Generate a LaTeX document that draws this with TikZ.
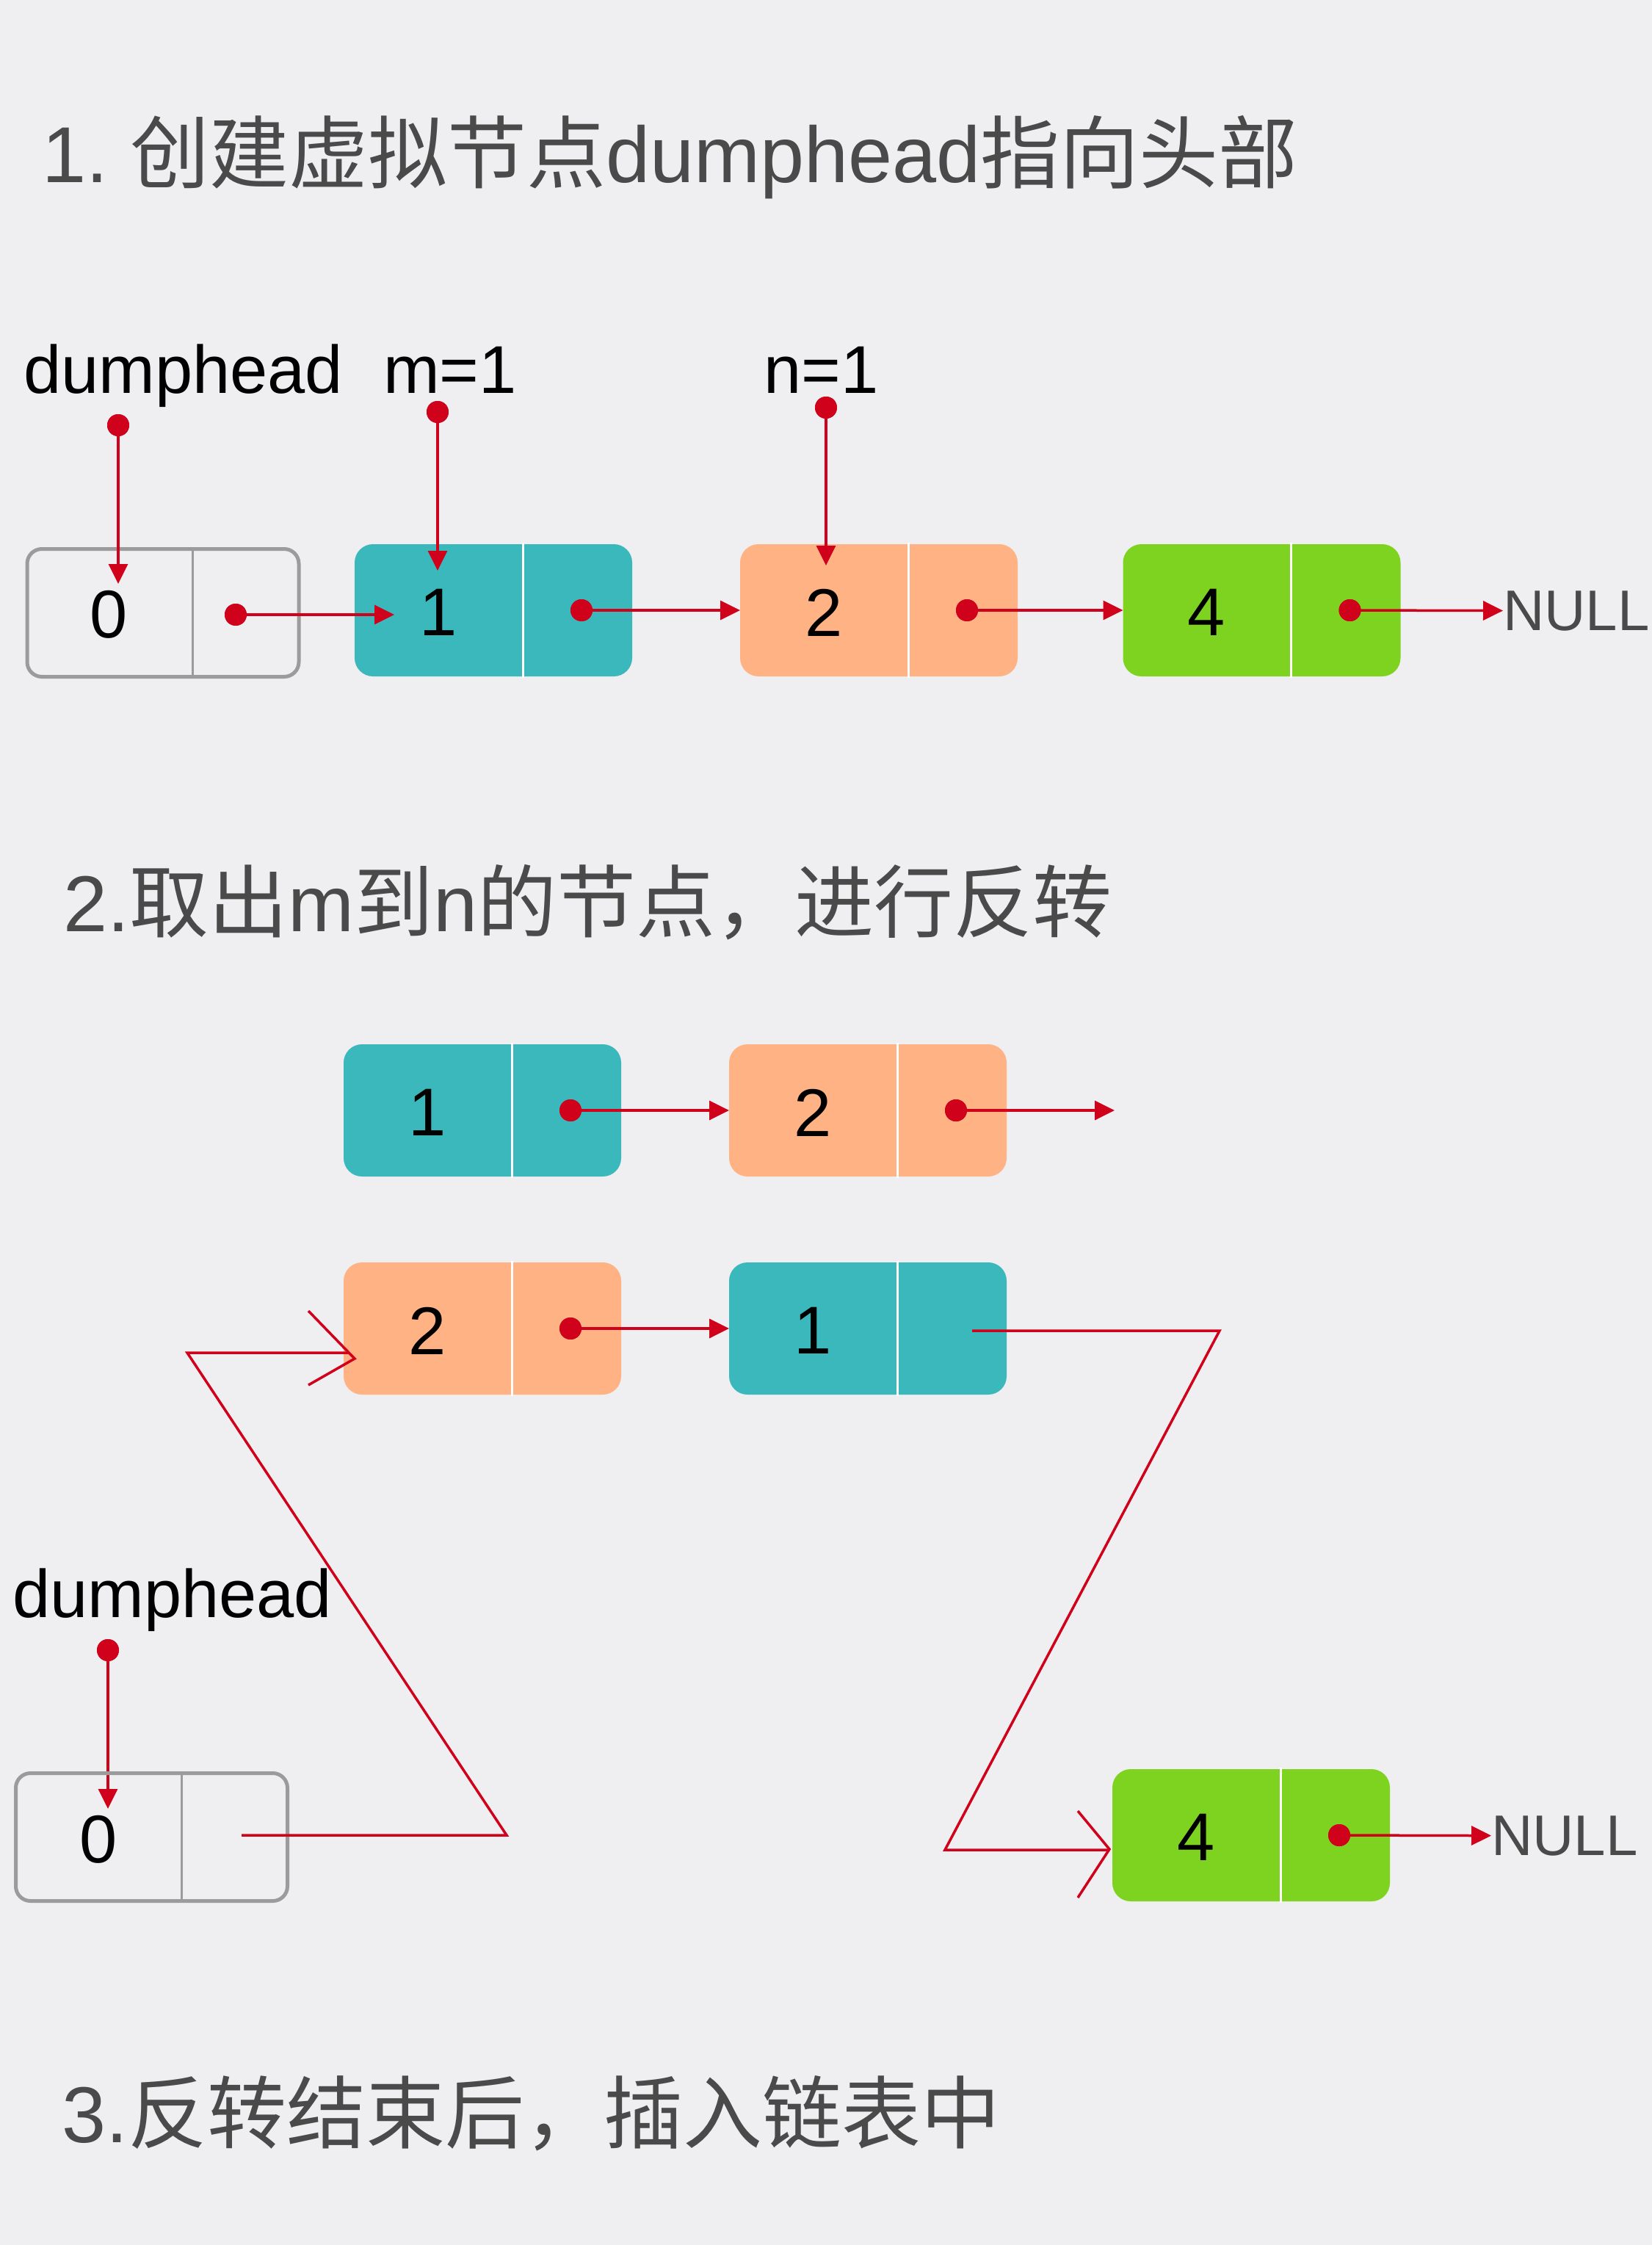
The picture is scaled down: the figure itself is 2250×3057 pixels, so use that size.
\documentclass[tikz,border=0pt]{standalone}
\usepackage{fontspec}
\setmainfont{Liberation Sans}
\newfontfamily\cjk{Noto Sans CJK SC}
\usetikzlibrary{arrows.meta,calc}
\definecolor{bgc}{HTML}{EFEFF1}
\definecolor{tealc}{HTML}{3AB8BC}
\definecolor{orangec}{HTML}{FFB385}
\definecolor{greenc}{HTML}{7ED321}
\definecolor{redc}{HTML}{D0021B}
\definecolor{grayc}{HTML}{9B9B9B}
\definecolor{titlec}{HTML}{4A4A4A}
\tikzset{
  box/.style={rounded corners=25pt, minimum width=378pt, minimum height=180pt, inner sep=0pt, outer sep=0pt, draw=none},
  hbox/.style={rounded corners=20pt, minimum width=370pt, minimum height=174pt, draw=grayc, line width=5pt, inner sep=0pt, outer sep=0pt},
  divw/.style={white, line width=3pt},
  divg/.style={grayc, line width=3pt},
  val/.style={font=\fontsize{92}{110}\selectfont, inner sep=0pt, text=black},
  lbl/.style={font=\fontsize{92}{110}\selectfont, inner sep=0pt, anchor=base west, text=black},
  nul/.style={font=\fontsize{78}{94}\selectfont, inner sep=0pt, anchor=base west, text=titlec},
  ttl/.style={font=\fontsize{108}{130}\selectfont, inner sep=0pt, anchor=base west, text=titlec},
  dot/.style={circle, fill=redc, minimum size=30pt, inner sep=0pt, outer sep=0pt},
  ptr/.style={redc, line width=3.5pt, -{Triangle[length=27pt,width=26pt]}},
  wire/.style={redc, line width=3.5pt},
}
\newcommand\mkbox[5]{% name, cx, cy, fill, value
  \node[box, fill=#4] (#1) at (#2,#3) {};
  \draw[divw] ($(#1.north west)+(229,-2)$) -- ($(#1.south west)+(229,2)$);
  \node[val] (#1v) at ($(#1.west)+(114,3)$) {#5};
}
\begin{document}
\begin{tikzpicture}[x=1pt,y=-1pt]
\useasboundingbox (0,0) rectangle (2250,3057);
\fill[bgc] (0,0) rectangle (2250,3057);

% ---------- titles ----------
\node[ttl] (t1) at (57,248) {1.\ {\cjk 创建虚拟节点}dumphead{\cjk 指向头部}};
\node[ttl] (t2) at (86,1268) {2.{\cjk 取出}m{\cjk 到}n{\cjk 的节点，进行反转}};
\node[ttl] (t3) at (84,2917) {3.{\cjk 反转结束后，插入链表中}};

% ---------- section 1 ----------
\node[hbox] (h1) at (222,834.5) {};
\draw[divg] ($(h1.north west)+(225,0)$) -- ($(h1.south west)+(225,0)$);
\node[val] (h1v) at (148,837) {0};
\node[dot] (h1d) at (321,837) {};

\mkbox{a1}{672}{831}{tealc}{1}
\node[dot] (a1d) at ($(a1.west)+(309,0)$) {};
\mkbox{b1}{1197}{831}{orangec}{2}
\node[dot] (b1d) at ($(b1.west)+(309,0)$) {};
\mkbox{c1}{1718.5}{831}{greenc}{4}
\node[dot] (c1d) at ($(c1.west)+(309,0)$) {};
\node[nul] (null1) at (2047,858) {NULL};

\node[lbl] (ldh1) at (32,535) {dumphead};
\node[lbl] (lm) at (522,535) {m=1};
\node[lbl] (ln) at (1040,535) {n=1};
\node[dot] (pdh1) at (161,579) {};
\node[dot] (pm) at (596,561) {};
\node[dot] (pn) at (1125,555) {};
\coordinate (pdh1tip) at (161,795);
\coordinate (pmtip) at (596,777);
\coordinate (pntip) at (1125,770);
\coordinate (h1tip) at (537,837);

\draw[ptr] (pdh1.center) -- (pdh1tip);
\draw[ptr] (pm.center) -- (pmtip);
\draw[ptr] (pn.center) -- (pntip);
\draw[ptr] (h1d.center) -- (h1tip);
\draw[ptr] (a1d.center) -- (b1.west);
\draw[ptr] (b1d.center) -- (c1.west);
\draw[ptr] (c1d.center) -- (null1.west);
\node[dot] at (pdh1) {};
\node[dot] at (pm) {};
\node[dot] at (pn) {};
\node[dot] at (h1d) {};
\node[dot] at (a1d) {};
\node[dot] at (b1d) {};
\node[dot] at (c1d) {};

% ---------- section 2 ----------
\mkbox{a2}{657}{1512}{tealc}{1}
\node[dot] (a2d) at ($(a2.west)+(309,0)$) {};
\mkbox{b2}{1182}{1512}{orangec}{2}
\node[dot] (b2d) at ($(b2.west)+(309,0)$) {};
\coordinate (b2end) at (1518,1512);
\draw[ptr] (a2d.center) -- (b2.west);
\draw[ptr] (b2d.center) -- (b2end);
\node[dot] at (a2d) {};
\node[dot] at (b2d) {};

\mkbox{b3}{657}{1809}{orangec}{2}
\node[dot] (b3d) at ($(b3.west)+(309,0)$) {};
\mkbox{a3}{1182}{1809}{tealc}{1}
\draw[ptr] (b3d.center) -- (a3.west);
\node[dot] at (b3d) {};

% ---------- section 3 ----------
\node[lbl] (ldh2) at (17,2202) {dumphead};
\node[dot] (pdh2) at (147,2247) {};
\coordinate (pdh2tip) at (147,2463);
\draw[ptr] (pdh2.center) -- (pdh2tip);
\node[dot] at (pdh2) {};

\node[hbox] (h2) at (206.5,2501.5) {};
\draw[divg] ($(h2.north west)+(225.5,0)$) -- ($(h2.south west)+(225.5,0)$);
\node[val] (h2v) at (134,2505) {0};

\mkbox{c2}{1704}{2499}{greenc}{4}
\node[dot] (c2d) at ($(c2.west)+(309,0)$) {};
\node[nul] (null2) at (2031,2526) {NULL};
\draw[ptr] (c2d.center) -- (null2.west);
\node[dot] at (c2d) {};

% connector: dumphead -> reversed 2
\coordinate (w1) at (329,2499);
\coordinate (w2) at (690,2499);
\coordinate (w3) at (255,1842);
\coordinate (w4) at (475,1842);
\coordinate (v1a) at (420,1785);
\coordinate (v1t) at (483,1850);
\coordinate (v1b) at (420,1886);
\draw[wire, line join=miter] (w1) -- (w2) -- (w3) -- (w4);
\draw[wire] (v1a) -- (v1t) -- (v1b);

% connector: reversed 1 -> 4
\coordinate (u1) at (1324,1812);
\coordinate (u2) at (1661,1812);
\coordinate (u3) at (1287,2519);
\coordinate (u4) at (1511,2519);
\coordinate (v2a) at (1468,2466);
\coordinate (v2t) at (1511,2518);
\coordinate (v2b) at (1468,2584);
\draw[wire, line join=miter] (u1) -- (u2) -- (u3) -- (u4);
\draw[wire] (v2a) -- (v2t) -- (v2b);
\end{tikzpicture}
\end{document}
